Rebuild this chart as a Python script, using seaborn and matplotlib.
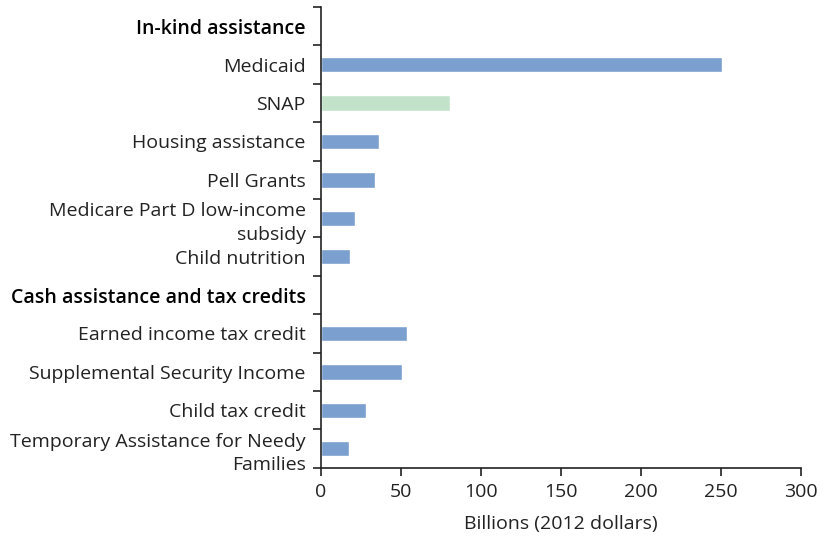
import numpy as np
import pandas as pd
import matplotlib
matplotlib.use("Agg")
import matplotlib.pyplot as plt
import seaborn as sns

# DATA
labels = [
    "In-kind assistance",
    "Medicaid",
    "SNAP",
    "Housing assistance",
    "Pell Grants",
    "Medicare Part D low-income\nsubsidy",
    "Child nutrition",
    "Cash assistance and tax credits",
    "Earned income tax credit",
    "Supplemental Security Income",
    "Child tax credit",
    "Temporary Assistance for Needy\nFamilies",
]
values = [np.nan, 251, 80.5, 36, 34, 21, 18, np.nan, 54, 50.5, 28, 17.5]
groups = ["other", "other", "snap", "other", "other", "other", "other",
          "other", "other", "other", "other", "other"]
headers = ["In-kind assistance", "Cash assistance and tax credits"]

df = pd.DataFrame({"program": labels, "billions": values, "group": groups})

sns.set_style("ticks")
plt.rcParams["font.family"] = ["Open Sans", "DejaVu Sans"]

fig = plt.figure(figsize=(8.23, 5.39), dpi=100)
ax = fig.add_axes([0.39, 0.132, 0.583, 0.855])

sns.barplot(
    data=df,
    x="billions",
    y="program",
    hue="group",
    order=labels,
    hue_order=["other", "snap"],
    palette={"other": "#7BA0CF", "snap": "#C2E3CA"},
    saturation=1,
    dodge=False,
    width=0.4,
    legend=False,
    ax=ax,
)

ax.set_xlim(0, 300)
ax.set_xticks(np.arange(0, 301, 50))
ax.set_ylim(len(labels) - 0.5, -0.5)

# ticks between categories
ax.set_yticks(np.arange(-0.5, len(labels)), minor=True)
ax.tick_params(axis="y", which="major", length=0, pad=11)
ax.tick_params(axis="y", which="minor", length=6, width=1.2, color="#222222")
ax.tick_params(axis="x", length=6, width=1.2, color="#222222", pad=5)

ax.set_yticklabels(labels, fontsize=14, color="#222222")
for t in ax.get_yticklabels():
    t.set_multialignment("right")
    t.set_linespacing(1.4)
    if t.get_text() in headers:
        t.set_fontweight("semibold")
        t.set_color("#000000")
for t in ax.get_xticklabels():
    t.set_fontsize(14)
    t.set_color("#222222")

ax.set_ylabel("")
ax.set_xlabel("Billions (2012 dollars)", fontsize=14, color="#222222", labelpad=10)

sns.despine(ax=ax)
ax.spines["left"].set_linewidth(1.2)
ax.spines["bottom"].set_linewidth(1.2)
ax.spines["left"].set_color("#222222")
ax.spines["bottom"].set_color("#222222")

plt.savefig("out.png", dpi=100)
